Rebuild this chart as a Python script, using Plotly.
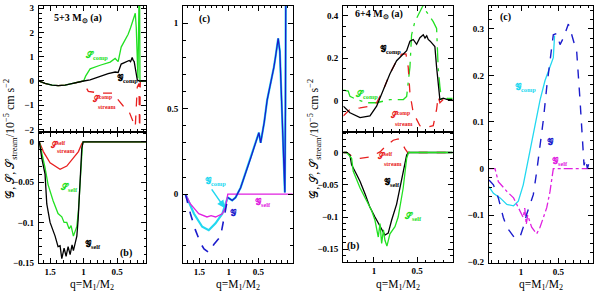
import plotly.graph_objects as go

# ---------------- data (q = M1/M2) ----------------
# 5+3 Msun, panel (a): comp terms
qa_g = [1.664,1.575,1.47,1.38,1.276,1.17,1.082,1.0,0.903,0.754,0.634,0.53,0.485,0.44,0.38,0.32,0.3,0.285,0.276,0.26,0.246,0.2,0.17,0.067]
ga_comp = [0,-0.1,-0.17,-0.19,-0.17,-0.1,-0.03,0,0.05,0.2,0.3,0.37,0.35,0.7,0.78,0.85,0.8,0.92,0.97,0.85,0.8,0.05,0,0]
qa_s = [1.664,1.575,1.47,1.38,1.276,1.17,1.082,1.0,0.97,0.93,0.903,0.754,0.604,0.53,0.5,0.485,0.44,0.41,0.36,0.336,0.3,0.26,0.23,0.215,0.19,0.175,0.165,0.16,0.067]
sa_comp = [0,-0.1,-0.17,-0.19,-0.17,-0.1,-0.03,0,0.2,0.42,0.5,0.65,0.78,0.93,0.85,0.8,1.4,1.55,1.75,1.93,2.2,2.6,2.8,2.2,0.1,3.3,3.3,0,0]
qa_r = [1.664,1.575,1.47,1.38,1.276,1.17,1.082,1.0,0.97,0.93,0.754,0.56,0.53,0.41,0.336,0.26,0.23,0.2,0.175,0.165,0.155,0.067]
sa_stream = [0,-0.1,-0.17,-0.19,-0.17,-0.1,-0.03,0,-0.23,-0.43,-0.5,-0.5,-0.63,-1.03,-1.17,-1.7,-1.9,-0.25,-0.1,-2.3,0,0]
# 5+3, panel (b): self terms
qb_g = [1.66,1.624,1.575,1.549,1.5,1.425,1.381,1.351,1.325,1.291,1.261,1.231,1.201,1.172,1.152,1.101,1.082,1.052,1.027,1.007,0.067]
gb_self = [0,-0.02,-0.04,-0.077,-0.1,-0.117,-0.13,-0.129,-0.145,-0.132,-0.142,-0.13,-0.14,-0.128,-0.135,-0.117,-0.097,-0.044,-0.008,0,0]
qb_s = [1.66,1.624,1.575,1.53,1.455,1.381,1.325,1.291,1.251,1.216,1.187,1.152,1.127,1.101,1.077,1.052,1.018,1.007,0.067]
sb_self = [0,-0.012,-0.032,-0.053,-0.073,-0.089,-0.093,-0.1,-0.1,-0.108,-0.104,-0.117,-0.11,-0.105,-0.085,-0.045,-0.004,0,0]
qb_r = [1.66,1.6,1.5,1.4,1.351,1.251,1.152,1.077,1.027,1.007,0.067]
sb_stream = [0,-0.012,-0.026,-0.032,-0.034,-0.03,-0.02,-0.012,-0.002,0,0]
# 5+3, panel (c): totals
qc_g = [1.734,1.65,1.565,1.48,1.42,1.34,1.254,1.14,1.056,1.017,0.943,0.886,0.80,0.63,0.52,0.49,0.46,0.40,0.35,0.265,0.237,0.209,0.18,0.163,0.135,0.095,0.068,0.05,0.04,0.034]
gc_total = [0,-0.114,-0.21,-0.285,-0.32,-0.34,-0.294,-0.247,-0.093,-0.019,-0.036,-0.019,0.038,0.21,0.32,0.36,0.3,0.42,0.55,0.68,0.74,0.8,0.855,0.91,0.835,0.455,0.134,0.01,0.5,1.2]
qc_c = [1.734,1.59,1.45,1.34,1.225,1.11,1.056,1.017]
gc_comp = [0,-0.114,-0.19,-0.21,-0.17,-0.114,-0.057,-0.019]
qc_m = [1.734,1.65,1.51,1.37,1.3,1.225,1.11,1.056,1.017,-0.083]
gc_self = [0,-0.057,-0.114,-0.133,-0.125,-0.133,-0.114,-0.076,0,0]
# 6+4 Msun, panel (a)
qd_g = [1.354,1.277,1.16,1.046,0.969,0.893,0.815,0.738,0.68,0.622,0.584,0.546,0.507,0.469,0.43,0.41,0.39,0.373,0.35,0.315,0.296,0.276,0.258,0.238,0.2,0.15,0.09]
gd_comp = [-0.026,-0.057,-0.08,-0.072,-0.026,0.05,0.127,0.188,0.21,0.235,0.28,0.288,0.265,0.296,0.31,0.295,0.305,0.288,0.28,0.265,0.255,0.158,0.066,0.005,0.012,0.005,0.005]
qd_s = [1.354,1.297,1.277,1.2,1.084,0.969,0.815,0.66,0.622,0.584,0.565,0.527,0.45,0.43,0.392,0.315,0.276,0.258,0.238,0.218,0.2,0.15,0.09]
sd_comp = [0.05,0.045,0.02,0.005,-0.01,-0.01,0.005,0.005,0.02,0.158,0.31,0.372,0.434,0.45,0.418,0.372,0.34,0.158,0.066,0.005,0.02,0.01,0.01]
qd_r = [1.354,1.316,1.277,1.16,1.046,0.969,0.893,0.815,0.738,0.68,0.63,0.604,0.584,0.546,0.469,0.392,0.315,0.276,0.258,0.238,0.2,0.15,0.09]
sd_stream = [-0.072,-0.057,-0.041,-0.034,-0.026,-0.01,0.05,0.127,0.188,0.219,0.22,0.158,0.035,-0.057,-0.118,-0.126,-0.118,-0.041,0.02,-0.01,0.005,0,0]
# 6+4, panel (b)
qe_g = [1.354,1.315,1.277,1.258,1.2,1.16,1.1,1.046,0.988,0.93,0.873,0.835,0.796,0.738,0.7,0.662,0.622,0.6,0.09]
ge_self = [0,0,-0.004,-0.019,-0.034,-0.045,-0.065,-0.085,-0.1,-0.115,-0.128,-0.125,-0.105,-0.08,-0.055,-0.029,-0.004,0,0]
qe_s = [1.354,1.315,1.258,1.239,1.16,1.084,1.027,0.988,0.95,0.93,0.911,0.89,0.873,0.85,0.815,0.757,0.72,0.662,0.622,0.6,0.09]
se_self = [0,0,-0.009,-0.029,-0.055,-0.075,-0.09,-0.105,-0.131,-0.11,-0.141,-0.12,-0.136,-0.145,-0.126,-0.115,-0.1,-0.055,-0.009,0,0]
qe_r = [1.354,1.315,1.239,1.16,1.046,0.93,0.853,0.777,0.72,0.68,0.642,0.61,0.09]
se_stream = [0,0,-0.007,-0.009,-0.007,0.001,0.011,0.019,0.021,0.016,0.006,0,0]
# 6+4, panel (c)
qf_g = [1.429,1.37,1.304,1.237,1.19,1.125,1.08,1.013,0.97,0.924,0.88,0.835,0.79,0.745,0.7,0.655,0.611,0.567,0.521,0.477,0.433,0.387,0.365,0.32,0.276,0.253,0.209,0.186,0.155,0.133,0.11,0.085,0.055]
gf_total = [-0.0245,-0.035,-0.063,-0.105,-0.126,-0.14,-0.15,-0.147,-0.126,-0.098,-0.077,-0.056,-0.007,0.049,0.105,0.175,0.23,0.287,0.29,0.266,0.28,0.3,0.31,0.287,0.266,0.25,0.147,0.077,0.007,0.021,0,0.014,0]
qf_c = [1.429,1.37,1.28,1.19,1.1,1.036,0.97,0.902,0.812,0.745,0.678,0.611,0.567,0.55]
gf_comp = [-0.039,-0.053,-0.063,-0.077,-0.08,-0.07,-0.035,0.021,0.091,0.147,0.189,0.217,0.238,0.285]
qf_m = [1.429,1.349,1.304,1.19,1.1,1.013,0.97,0.95,0.93,0.91,0.857,0.79,0.745,0.7,0.655,0.611,0.567,0.039]
gf_self = [0,0,-0.028,-0.049,-0.063,-0.091,-0.105,-0.085,-0.12,-0.1,-0.126,-0.14,-0.126,-0.105,-0.084,-0.049,0,0]

# ---------------- styling ----------------
W, H = 600, 296
BLACK, GREEN, RED = "#000000", "#22e022", "#e82020"
BLUE, CYAN, MAG = "#1c1ccc", "#22d8f0", "#e020e0"
SERIF = "Liberation Serif"

def fx(px):
    return px / W

def fy(py):
    return 1 - py / H

fig = go.Figure()

def line(n, x, y, color, dash="solid", width=1.3):
    fig.add_trace(go.Scatter(x=x, y=y, mode="lines", xaxis=f"x{n}", yaxis=f"y{n}",
                             line=dict(color=color, dash=dash, width=width),
                             showlegend=False, hoverinfo="skip"))

# panel 1 (a)
line(1, qa_r, sa_stream, RED, "dash")
line(1, qa_s, sa_comp, GREEN)
line(1, qa_g, ga_comp, BLACK)
# panel 2 (b)
line(2, qb_r, sb_stream, RED)
line(2, qb_s, sb_self, GREEN)
line(2, qb_g, gb_self, BLACK)
# panel 3 (c)
k = qc_g.index(1.017)
line(3, qc_c + qc_g[k+1:], gc_comp + gc_total[k+1:], CYAN, width=2.2)
line(3, qc_m, gc_self, MAG)
line(3, qc_g[:k+1], gc_total[:k+1], BLUE, "dash", 1.6)
line(3, qc_g[k:], gc_total[k:], BLUE, "solid", 1.3)
# panel 4 (6+4 a)
line(4, qd_s, sd_comp, GREEN, "longdashdot")
line(4, qd_r, sd_stream, RED, "dash")
line(4, qd_g, gd_comp, BLACK)
# panel 5 (6+4 b)
line(5, qe_r, se_stream, RED, "dash")
line(5, qe_g, ge_self, BLACK)
line(5, qe_s, se_self, GREEN)
# panel 6 (6+4 c)
line(6, qf_c, gf_comp, CYAN)
line(6, qf_m, gf_self, MAG, "dashdot")
line(6, qf_g, gf_total, BLUE, "dash", 1.4)

tickfont = dict(family=SERIF, size=9, color="black", weight="bold")

def xax(x0, x1, rng, labels, anchor):
    return dict(domain=[fx(x0), fx(x1)], range=rng, anchor=anchor,
                showline=True, linecolor="black", linewidth=1.2, mirror="allticks",
                ticks="inside", ticklen=5, tickwidth=1, tickcolor="black",
                tickvals=[1.5, 1.0, 0.5], ticktext=["1.5", "1", "0.5"],
                showticklabels=labels, tickfont=tickfont, ticklabelstandoff=0,
                minor=dict(ticks="inside", ticklen=2.5, dtick=0.1, tick0=0, tickcolor="black"),
                showgrid=False, zeroline=False)

def yax(y0, y1, rng, vals, text, mdt, anchor):
    return dict(domain=[fy(y1), fy(y0)], range=rng, anchor=anchor,
                showline=True, linecolor="black", linewidth=1.2, mirror="allticks",
                ticks="inside", ticklen=5, tickwidth=1, tickcolor="black",
                tickvals=vals, ticktext=text, tickfont=tickfont, ticklabelstandoff=2,
                minor=dict(ticks="inside", ticklen=2.5, dtick=mdt, tick0=0, tickcolor="black"),
                showgrid=False, zeroline=False)

fig.update_layout(
    width=W, height=H, margin=dict(l=0, r=0, t=0, b=0),
    paper_bgcolor="white", plot_bgcolor="white",
    xaxis=xax(39, 146, [1.665, 0.07], False, "y"),
    yaxis=yax(4, 133, [-2.1, 3.1], [-2, -1, 0, 1, 2, 3], ["−2", "−1", "0", "1", "2", "3"], 0.2, "x"),
    xaxis2=xax(39, 146, [1.665, 0.07], True, "y2"),
    yaxis2=yax(133, 267, [-0.15, 0.0125], [0, -0.05, -0.1, -0.15], ["0", "−0.05", "−0.1", "−0.15"], 0.01, "x2"),
    xaxis3=xax(183.3, 292.7, [1.771, -0.083], True, "y3"),
    yaxis3=yax(4, 267, [-0.4, 1.1], [0, 0.5, 1], ["0", "0.5", "1"], 0.1, "x3"),
    xaxis4=xax(343.3, 452.7, [1.354, 0.09], False, "y4"),
    yaxis4=yax(4, 133, [-0.147, 0.446], [0, 0.2, 0.4], ["0", "0.2", "0.4"], 0.05, "x4"),
    xaxis5=xax(343.3, 452.7, [1.354, 0.09], True, "y5"),
    yaxis5=yax(133, 266.5, [-0.17, 0.032], [0, -0.05, -0.1, -0.15], ["0", "−0.05", "−0.1", "−0.15"], 0.01, "x5"),
    xaxis6=xax(489, 592.7, [1.429, 0.039], True, "y6"),
    yaxis6=yax(4, 267, [-0.202, 0.349], [-0.2, -0.1, 0, 0.1, 0.2, 0.3], ["−0.2", "−0.1", "0", "0.1", "0.2", "0.3"], 0.02, "x6"),
)

def note(px, py, text, color="black", size=9, xanchor="left", angle=0, bold=True):
    fig.add_annotation(x=fx(px), y=fy(py), xref="paper", yref="paper", text=text,
                       showarrow=False, xanchor=xanchor, yanchor="middle", textangle=angle,
                       font=dict(family=SERIF, size=size, color=color, weight="bold" if bold else "normal"))

G, S = "𝒢", "𝒮"
# axis titles
ytitle = f"{G}, {S}, {S}<sub>stream</sub>/10<sup>−5</sup> cm s<sup>−2</sup>"
note(11, 140, ytitle, size=12, xanchor="center", angle=-90, bold=False)
note(315, 140, ytitle, size=12, xanchor="center", angle=-90, bold=False)
xt = "q=M<sub>1</sub>/M<sub>2</sub>"
for cx in (92, 238, 398, 541):
    fig.add_annotation(x=fx(cx), y=0, xref="paper", yref="paper", text=xt,
                       showarrow=False, xanchor="center", yanchor="bottom", yshift=-3,
                       font=dict(family=SERIF, size=11.5, color="black"))

# panel labels
note(52, 17, "5+3 M<sub>⊙</sub> (a)", size=10)
note(118, 257, "(b)", size=10)
note(197, 17, "(c)", size=10)
note(353, 13, "6+4 M<sub>⊙</sub> (a)", size=10)
note(345, 250, "(b)", size=10)
note(498, 15, "(c)", size=10)

# curve labels
note(83, 55, f"{S}<sub>comp</sub>", GREEN)
note(115, 78, f"{G}<sub>comp</sub>", BLACK)
note(90, 99, f"{S}<sup>comp</sup>", RED, size=8)
note(96, 108, "stream", RED, size=6)
note(48, 146, f"{S}<sup>self</sup>", RED, size=8)
note(55, 153, "stream", RED, size=6)
note(58, 190, f"{S}<sub>self</sub>", GREEN)
note(83, 248, f"{G}<sub>self</sub>", BLACK)
note(203, 184, f"{G}<sub>comp</sub>", CYAN)
note(228, 216, G, BLUE)
note(253, 205, f"{G}<sub>self</sub>", MAG)
note(378, 49, f"{G}<sub>comp</sub>", BLACK)
note(353, 95, f"{S}<sub>comp</sub>", GREEN)
note(388, 116, f"{S}<sup>comp</sup>", RED, size=8)
note(393, 125, "stream", RED, size=6)
note(375, 158, f"{S}<sup>self</sup>", RED, size=8)
note(382, 166, "stream", RED, size=6)
note(382, 185, f"{G}<sub>self</sub>", BLACK)
note(402, 220, f"{S}<sub>self</sub>", GREEN)
note(513, 88, f"{G}<sub>comp</sub>", CYAN)
note(545, 143, G, BLUE)
note(550, 163, f"{G}<sub>self</sub>", MAG)

# arrow in panel c
fig.add_annotation(x=1.07, y=-0.08, xref="x3", yref="y3", ax=-14, ay=-20,
                   showarrow=True, arrowhead=2, arrowsize=1, arrowwidth=1.5,
                   arrowcolor=CYAN, text="")

fig.write_html(
    "out.html",
    config={"displayModeBar": False, "staticPlot": True},
    post_script=("document.documentElement.style.margin='0';"
                 "document.documentElement.style.overflow='hidden';"
                 "document.body.style.margin='0';"
                 "document.body.style.overflow='hidden';"),
)
